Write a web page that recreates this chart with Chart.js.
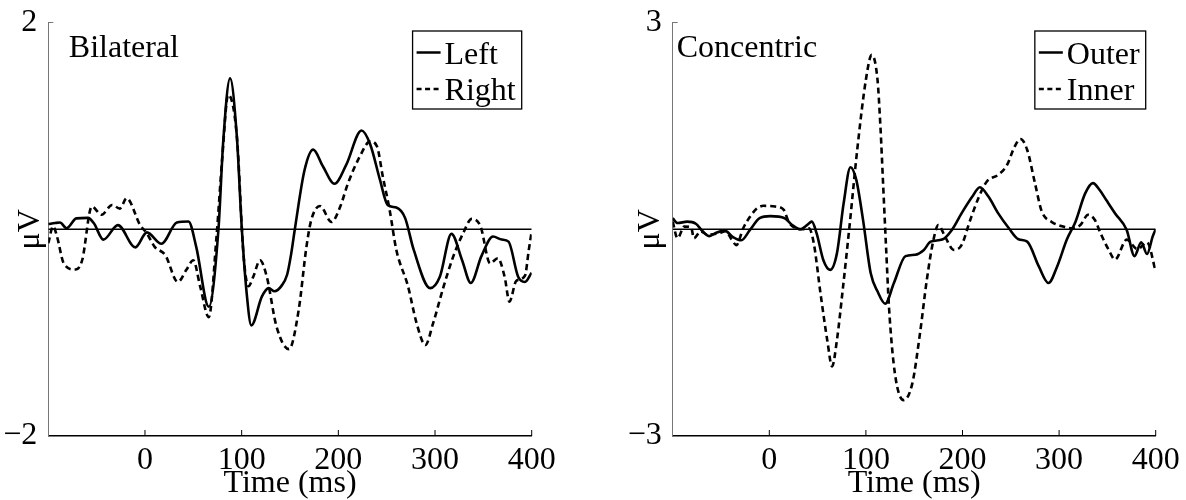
<!DOCTYPE html>
<html>
<head>
<meta charset="utf-8">
<script src="https://cdn.jsdelivr.net/npm/chart.js@4"></script>
<style>
  html, body { margin: 0; padding: 0; background: #fff; }
  #wrap { position: relative; width: 1186px; height: 500px; }
  canvas { position: absolute; top: 0; }
</style>
</head>
<body>
<div id="wrap">
  <canvas id="bilateral" width="593" height="500" style="left:0"></canvas>
  <canvas id="concentric" width="593" height="500" style="left:593px"></canvas>
</div>
<script>
// time window and tick labels
const timeRange = [-100, 400];
const xTicks = [0, 100, 200, 300, 400];
const bilatYTicks = [-2, 2];
const concYTicks = [-3, 3];

// Bilateral panel
const leftTime = [-100, -93, -88, -81, -71, -59, -53, -43, -28, -10, 2, 17, 33, 45, 53, 66, 76, 81, 88, 95, 100, 105, 110, 121, 128, 134, 141, 147, 151, 155, 165, 174, 184, 196, 208, 224, 233, 243, 251, 260, 269, 278, 295, 305, 317, 328, 337, 348, 360, 369, 376, 386, 393, 400];
const leftValues = [0.05, 0.06, 0.065, 0.01, 0.105, 0.11, 0.06, -0.10, 0.04, -0.175, -0.03, -0.14, 0.065, 0.075, -0.17, -0.75, 0, 0.86, 1.46, 0.9, 0.03, -0.6, -0.93, -0.65, -0.57, -0.6, -0.55, -0.44, -0.25, 0, 0.57, 0.77, 0.61, 0.44, 0.62, 0.955, 0.82, 0.48, 0.235, 0.21, 0.11, -0.2, -0.57, -0.46, -0.045, -0.30, -0.52, -0.26, -0.07, -0.10, -0.12, -0.46, -0.51, -0.42];
const rightTime = [-100, -95, -91, -84, -72, -65, -55, -45, -34, -26, -19, -5, 2, 10, 21, 34, 43, 50, 57, 66, 74, 80, 86, 95, 102, 107, 112, 119, 126, 136, 149, 159, 167, 172, 181, 193, 202, 210, 222, 233, 240, 246, 253, 260, 272, 281, 290, 298, 309, 319, 329, 338, 347, 357, 365, 372, 377, 384, 393, 397, 400];
const rightValues = [-0.135, 0.03, -0.07, -0.33, -0.39, -0.30, 0.22, 0.14, 0.235, 0.2, 0.30, 0.04, -0.04, -0.17, -0.25, -0.51, -0.39, -0.30, -0.55, -0.85, -0.07, 0.7, 1.30, 0.9, -0.26, -0.55, -0.46, -0.30, -0.46, -0.94, -1.16, -0.78, -0.17, 0.09, 0.225, 0.07, 0.22, 0.445, 0.70, 0.85, 0.80, 0.51, 0.19, -0.2, -0.55, -0.91, -1.12, -0.91, -0.55, -0.26, -0.04, 0.10, 0.03, -0.33, -0.28, -0.46, -0.70, -0.5, -0.45, -0.2, -0.02];

// Concentric panel
const outerTime = [-100, -95, -85, -76, -69, -62, -55, -46, -38, -29, -20, -10, 1, 16, 23, 32, 39, 44, 49, 56, 63, 70, 77, 84, 90, 97, 105, 112, 120, 129, 141, 151, 160, 167, 179, 189, 199, 210, 218, 227, 237, 248, 258, 267, 279, 289, 298, 308, 317, 327, 335, 342, 349, 358, 370, 378, 385, 391, 397, 400];
const outerValues = [0.16, 0.09, 0.11, 0.08, -0.03, -0.10, -0.05, -0.02, -0.11, -0.16, -0.01, 0.16, 0.19, 0.16, 0.07, 0, 0.06, 0.11, -0.06, -0.45, -0.59, -0.35, 0.38, 0.90, 0.72, 0.14, -0.64, -0.9, -1.08, -0.78, -0.39, -0.37, -0.30, -0.18, -0.15, -0.01, 0.23, 0.47, 0.61, 0.47, 0.23, 0.015, -0.145, -0.18, -0.54, -0.78, -0.54, -0.15, 0.11, 0.52, 0.67, 0.57, 0.42, 0.23, -0.01, -0.39, -0.19, -0.36, -0.10, 0];
const innerTime = [-100, -95, -88, -81, -78, -71, -64, -53, -45, -39, -34, -27, -20, -13, -6, 6, 15, 20, 27, 34, 41, 46, 53, 60, 65, 70, 76, 83, 91, 100, 106, 112, 115, 118, 121, 124, 130, 139, 148, 156, 163, 170, 175, 182, 191, 199, 208, 217, 225, 237, 246, 254, 260, 267, 275, 282, 292, 304, 313, 322, 330, 337, 343, 351, 358, 370, 381, 391, 400];
const innerValues = [0.11, -0.13, 0.04, 0.03, -0.13, -0.03, -0.08, -0.06, -0.03, -0.15, -0.23, 0.015, 0.18, 0.30, 0.34, 0.33, 0.28, 0.11, 0.015, 0, 0.015, -0.20, -0.93, -1.61, -1.99, -1.61, -0.88, 0.04, 1.15, 2.17, 2.53, 2.17, 1.5, 0.6, -0.3, -1.15, -2.09, -2.48, -2.24, -1.51, -0.74, -0.15, 0.06, -0.11, -0.30, -0.23, 0.135, 0.47, 0.69, 0.79, 0.93, 1.20, 1.31, 1.15, 0.67, 0.26, 0.11, 0.04, 0.015, 0.06, 0.21, 0.135, -0.06, -0.29, -0.44, -0.15, -0.29, -0.19, -0.61];

const FONT = 'Liberation Serif';

function pts(t, v) {
    return t.map(function (x, i) { return { x: x, y: v[i] }; });
}

// panel label, inward ticks and boxed legend
const decorPlugin = {
    id: 'decor',
    afterDraw(chart, args, opts) {
        const ctx = chart.ctx;
        const a = chart.chartArea;
        const x = chart.scales.x, y = chart.scales.y;
        ctx.save();
        ctx.strokeStyle = '#000';
        ctx.lineWidth = 1;
        x.ticks.forEach(function (t) {
            const px = x.getPixelForValue(t.value);
            ctx.beginPath();
            ctx.moveTo(px, a.bottom);
            ctx.lineTo(px, a.bottom - 6);
            ctx.stroke();
        });
        ctx.strokeStyle = '#777';
        ctx.beginPath();
        ctx.moveTo(a.left, y.getPixelForValue(y.max));
        ctx.lineTo(a.left + 5, y.getPixelForValue(y.max));
        ctx.stroke();

        ctx.fillStyle = '#000';
        ctx.font = '32px "' + FONT + '"';
        ctx.textBaseline = 'alphabetic';
        ctx.textAlign = 'left';
        ctx.fillText(opts.label, a.left + opts.labelDx, a.top + 34.5);

        const items = chart.data.datasets.filter(function (d) { return d.label; });
        let textW = 0;
        items.forEach(function (d) { textW = Math.max(textW, ctx.measureText(d.label).width); });
        const boxW = 4 + 24 + 4 + textW + 6;
        const boxH = 78;
        const bx = a.right - 10 - boxW;
        const by = a.top + 8.5;
        ctx.lineWidth = 1.3;
        ctx.strokeStyle = '#000';
        ctx.strokeRect(bx, by, boxW, boxH);
        items.forEach(function (d, i) {
            const base = by + 32.5 + i * 36.5;
            ctx.beginPath();
            ctx.lineWidth = 2.5;
            ctx.setLineDash(d.borderDash ? [5, 3.5] : []);
            ctx.moveTo(bx + 4, base - 11);
            ctx.lineTo(bx + 28, base - 11);
            ctx.stroke();
            ctx.setLineDash([]);
            ctx.fillText(d.label, bx + 32, base);
        });
        ctx.restore();
    }
};

function makeChart(id, cfg) {
    const font = { family: FONT, size: 32, lineHeight: 1 };
    return new Chart(document.getElementById(id), {
        type: 'line',
        data: {
            datasets: [
                {
                    label: cfg.names[0], data: pts(cfg.t1, cfg.v1),
                    borderColor: '#000', borderWidth: 2.6, pointRadius: 0,
                    cubicInterpolationMode: 'monotone'
                },
                {
                    label: cfg.names[1], data: pts(cfg.t2, cfg.v2),
                    borderColor: '#000', borderWidth: 2.6, borderDash: [6, 4], pointRadius: 0,
                    cubicInterpolationMode: 'monotone'
                },
                {
                    label: '', data: [{ x: timeRange[0], y: 0 }, { x: timeRange[1], y: 0 }],
                    borderColor: '#000', borderWidth: 1.3, pointRadius: 0
                }
            ]
        },
        options: {
            responsive: false,
            animation: false,
            events: [],
            layout: { padding: { left: cfg.padLeft, right: cfg.padRight, top: 22.5, bottom: 0 } },
            plugins: {
                legend: { display: false },
                tooltip: { enabled: false },
                decor: { label: cfg.label, labelDx: cfg.labelDx }
            },
            scales: {
                x: {
                    type: 'linear', min: timeRange[0], max: timeRange[1],
                    afterBuildTicks: function (s) { s.ticks = xTicks.map(function (v) { return { value: v }; }); },
                    afterFit: function (s) { s.height = 64; },
                    grid: { display: false },
                    border: { color: '#000', width: 1.5 },
                    ticks: { font: font, color: '#000', padding: 1, maxRotation: 0, autoSkip: false },
                    title: { display: true, text: 'Time (ms)', font: font, color: '#000', padding: 0 }
                },
                y: {
                    min: cfg.yTicks[0], max: cfg.yTicks[1],
                    afterBuildTicks: function (s) { s.ticks = cfg.yTicks.map(function (v) { return { value: v }; }); },
                    afterFit: function (s) { s.width = 48.3; },
                    grid: { display: false },
                    border: { color: '#777', width: 1 },
                    ticks: {
                        font: font, color: '#000', padding: 3,
                        callback: function (v) { return v < 0 ? '\u2212' + Math.abs(v) : String(v); }
                    },
                    title: { display: true, text: 'μV', font: font, color: '#000', padding: { top: cfg.titlePad, bottom: 0 } }
                }
            }
        },
        plugins: [decorPlugin]
    });
}

makeChart('bilateral', {
    names: ['Left', 'Right'], label: 'Bilateral', labelDx: 20.5,
    t1: leftTime, v1: leftValues, t2: rightTime, v2: rightValues,
    yTicks: bilatYTicks, padLeft: 0, padRight: 61.3, titlePad: 15
});
makeChart('concentric', {
    names: ['Outer', 'Inner'], label: 'Concentric', labelDx: 4,
    t1: outerTime, v1: outerValues, t2: innerTime, v2: innerValues,
    yTicks: concYTicks, padLeft: 31.4, padRight: 30.3, titlePad: 10
});
</script>
</body>
</html>
